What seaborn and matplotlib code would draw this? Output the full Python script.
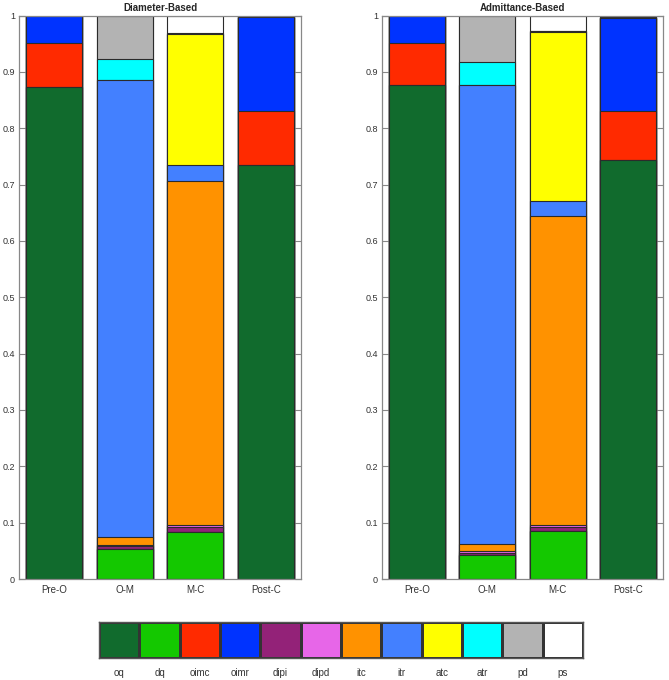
import numpy as np
import pandas as pd
import seaborn as sns
import matplotlib.pyplot as plt
from matplotlib.colors import ListedColormap

stages = ['Pre-O', 'O-M', 'M-C', 'Post-C']
classes = ['oq', 'dq', 'oimc', 'oimr', 'dipi', 'dipd', 'itc', 'itr', 'atc', 'atr', 'pd', 'ps']
colors = ['#116b2d', '#14c800', '#ff2a00', '#0033ff', '#932278', '#e766e8',
          '#ff9200', '#4380ff', '#ffff00', '#00ffff', '#b3b3b3', '#ffffff']

# fraction of each class per stage (rows = stages, cols = classes)
diameter = [
    [0.873, 0, 0.078, 0.049, 0, 0, 0, 0, 0, 0, 0, 0],
    [0, 0.053, 0, 0, 0.005, 0.003, 0.013, 0.811, 0, 0.037, 0.078, 0],
    [0, 0.083, 0, 0, 0.009, 0.003, 0.611, 0.029, 0.232, 0.001, 0.001, 0.031],
    [0.735, 0, 0.096, 0.166, 0, 0, 0, 0, 0, 0, 0, 0.003],
]
admittance = [
    [0.877, 0, 0.075, 0.048, 0, 0, 0, 0, 0, 0, 0, 0],
    [0, 0.042, 0, 0, 0.005, 0.002, 0.013, 0.815, 0, 0.041, 0.082, 0],
    [0, 0.085, 0, 0, 0.008, 0.003, 0.549, 0.026, 0.300, 0.001, 0.001, 0.027],
    [0.743, 0, 0.087, 0.166, 0, 0, 0, 0, 0.002, 0, 0, 0.002],
]

sns.set_style('white')
plt.rcParams['font.family'] = ['Liberation Sans', 'DejaVu Sans']

fig = plt.figure(figsize=(6.69, 6.80), dpi=100)
ax1 = fig.add_axes([0.0284, 0.1485, 0.4215, 0.8287])
ax2 = fig.add_axes([0.571, 0.1485, 0.420, 0.8287])
lax = fig.add_axes([0.148, 0.0324, 0.7235, 0.053])


def stacked(ax, data, title):
    df = pd.DataFrame(data, index=stages, columns=classes)
    cum = df.cumsum(axis=1)
    # draw from the top layer down so each smaller total overlays the previous
    for k in range(len(classes) - 1, -1, -1):
        sns.barplot(x=stages, y=cum[classes[k]].values, color=colors[k],
                    saturation=1, width=0.8, edgecolor='#2b2b2b',
                    linewidth=0.8, ax=ax)
    ax.set_xlim(-0.5, 3.5)
    ax.set_ylim(0, 1)
    ax.set_yticks(np.arange(0, 1.01, 0.1))
    ax.set_yticklabels(['0'] + ['%.1f' % v for v in np.arange(0.1, 0.95, 0.1)] + ['1'])
    ax.tick_params(axis='y', direction='in', length=4, width=0.8, color='#888888',
                   labelsize=6.5, labelcolor='#333333', right=True, left=True, pad=3)
    ax.tick_params(axis='x', length=0, labelsize=7, labelcolor='#333333', pad=4)
    for s in ax.spines.values():
        s.set_visible(True)
        s.set_color('#888888')
        s.set_linewidth(0.9)
    ax.set_xlabel('')
    ax.set_ylabel('')
    ax.set_title(title, fontsize=7, fontweight='bold', pad=3)


stacked(ax1, diameter, 'Diameter-Based')
stacked(ax2, admittance, 'Admittance-Based')

sns.heatmap(np.arange(len(classes)).reshape(1, -1), cmap=ListedColormap(colors),
            cbar=False, linewidths=0.8, linecolor='#333333',
            xticklabels=classes, yticklabels=False, ax=lax)
lax.tick_params(axis='x', length=0, labelsize=7, labelcolor='#333333', pad=7,
                labelrotation=0)
for s in lax.spines.values():
    s.set_visible(True)
    s.set_color('#555555')
    s.set_linewidth(1)

fig.savefig('out.png', dpi=100)
